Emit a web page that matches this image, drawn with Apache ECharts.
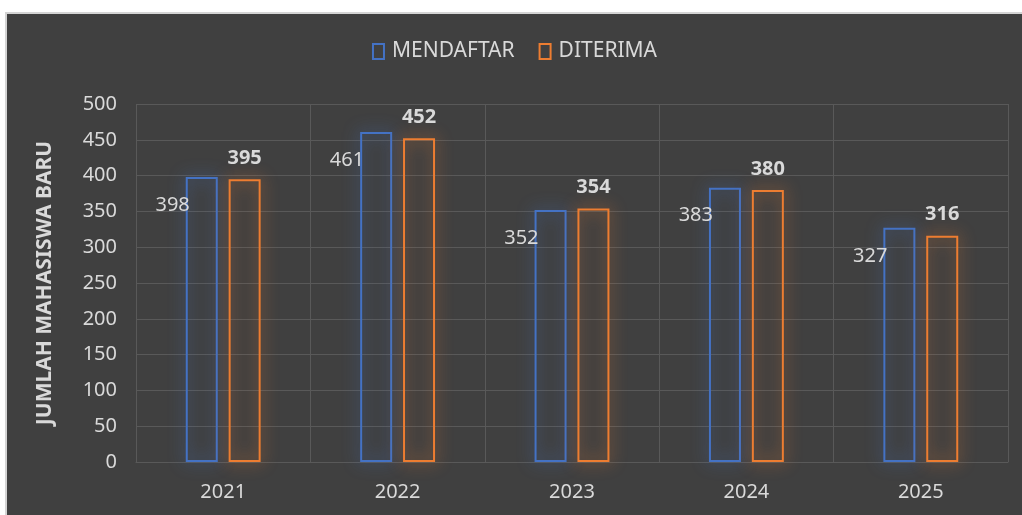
<!DOCTYPE html>
<html>
<head>
<meta charset="utf-8">
<script src="https://cdn.jsdelivr.net/npm/echarts@6/dist/echarts.min.js"></script>
<style>
html,body{margin:0;padding:0;background:#ffffff;width:1022px;height:515px;overflow:hidden;}
#frame{position:absolute;left:5px;top:12px;width:1017px;height:503px;border-left:2px solid #d4d4d4;border-top:2px solid #d4d4d4;background:#404040;box-sizing:border-box;}
#chart{position:absolute;left:0;top:0;width:1015px;height:501px;}
</style>
</head>
<body>
<div id="frame"><div id="chart"></div></div>
<script>
const categories = ['2021', '2022', '2023', '2024', '2025'];
const mendaftar = [398, 461, 352, 383, 327];
const diterima = [395, 452, 354, 380, 316];
const seriesNames = ['MENDAFTAR', 'DITERIMA'];
const yAxisTitle = 'JUMLAH MAHASISWA BARU';

const FONT = "'Noto Sans', 'Open Sans', sans-serif";
const TXT = '#d9d9d9';
const BLUE = '#4472c4';
const ORANGE = '#ed7d31';

const chart = echarts.init(document.getElementById('chart'), null, {renderer: 'canvas'});
chart.setOption({
  backgroundColor: '#404040',
  animation: false,
  textStyle: {fontFamily: FONT},
  legend: {
    top: 22,
    left: 'center',
    itemWidth: 11,
    itemHeight: 15,
    itemGap: 24,
    icon: 'rect',
    textStyle: {color: TXT, fontSize: 21, fontFamily: FONT, padding: [0, 0, 0, 3]},
    data: [
      {name: seriesNames[0], itemStyle: {color: 'transparent', borderColor: BLUE, borderWidth: 2}},
      {name: seriesNames[1], itemStyle: {color: 'transparent', borderColor: ORANGE, borderWidth: 2}}
    ]
  },
  grid: {left: 129, right: 14, top: 90, bottom: 53},
  xAxis: {
    type: 'category',
    data: categories,
    axisLine: {show: true, lineStyle: {color: '#595959', width: 1}},
    axisTick: {show: false},
    splitLine: {show: true, lineStyle: {color: '#595959', width: 1}},
    axisLabel: {color: TXT, fontSize: 20, margin: 20, fontFamily: FONT}
  },
  yAxis: {
    type: 'value',
    min: 0, max: 500, interval: 50,
    name: yAxisTitle,
    nameLocation: 'middle',
    nameGap: 80,
    nameRotate: 90,
    nameTextStyle: {color: TXT, fontSize: 21, fontWeight: 'bold', fontFamily: FONT},
    axisLine: {show: false},
    axisTick: {show: false},
    splitLine: {show: true, lineStyle: {color: '#595959', width: 1}},
    axisLabel: {color: TXT, fontSize: 20, margin: 19, fontFamily: FONT}
  },
  series: [
    {
      name: seriesNames[0],
      type: 'bar',
      data: mendaftar,
      barWidth: 32,
      barGap: '34%',
      itemStyle: {color: 'transparent', borderColor: BLUE, borderWidth: 2, shadowBlur: 16, shadowColor: 'rgba(68,114,196,1)'},
      label: {
        show: true,
        position: [4, 28],
        align: 'right',
        verticalAlign: 'middle',
        color: TXT, fontSize: 20, fontFamily: FONT
      }
    },
    {
      name: seriesNames[1],
      type: 'bar',
      data: diterima,
      barWidth: 32,
      itemStyle: {color: 'transparent', borderColor: ORANGE, borderWidth: 2, shadowBlur: 16, shadowColor: 'rgba(237,125,49,1)'},
      label: {
        show: true,
        position: 'top',
        distance: 11,
        color: TXT, fontSize: 20, fontWeight: 'bold', fontFamily: FONT
      }
    }
  ]
});
</script>
</body>
</html>
